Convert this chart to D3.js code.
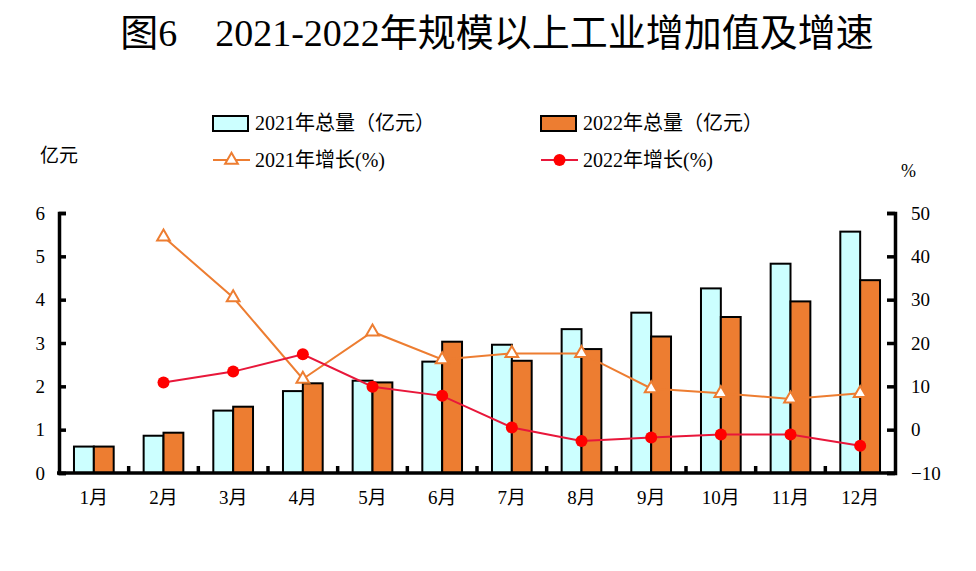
<!DOCTYPE html>
<html>
<head>
<meta charset="utf-8">
<script src="https://cdn.jsdelivr.net/npm/d3@7"></script>
<style>
  body { margin: 0; background: #fff; }
  text { font-family: "Liberation Serif", "Noto Sans CJK SC", serif; fill: #000; }
</style>
</head>
<body>
<svg id="chart" width="976" height="571"></svg>
<script>
// values
var months = ['1月','2月','3月','4月','5月','6月','7月','8月','9月','10月','11月','12月'];
var total2021 = [0.61, 0.86, 1.44, 1.89, 2.13, 2.57, 2.96, 3.32, 3.70, 4.26, 4.83, 5.57];
var total2022 = [0.61, 0.93, 1.53, 2.07, 2.09, 3.03, 2.59, 2.86, 3.15, 3.60, 3.96, 4.45];
var growth2021 = [null, 44.5, 30.5, 11.7, 22.6, 16.2, 17.6, 17.6, 9.5, 8.4, 7.1, 8.4];
var growth2022 = [null, 10.9, 13.4, 17.4, 9.9, 7.8, 0.5, -2.6, -1.8, -1.1, -1.1, -3.7];
var leftTicks = [0, 1, 2, 3, 4, 5, 6];
var rightTicks = [-10, 0, 10, 20, 30, 40, 50];

var orange = '#ED7D31', cyan = '#CCFFFF', red = '#FF0000', redLine = '#E8173A';

var svg = d3.select('#chart');
var pLeft = 59, pRight = 895, pTop = 213, pBottom = 473;

var x = d3.scaleBand().domain(months).range([pLeft, pRight])
	.paddingInner(0.43).paddingOuter(0.215);
var xs = d3.scaleBand().domain([0, 1]).range([0, x.bandwidth()]);
var yL = d3.scaleLinear().domain([0, 6]).range([pBottom, pTop]);
var yR = d3.scaleLinear().domain([-10, 50]).range([pBottom, pTop]);

// title
svg.append('text')
	.attr('x', 497).attr('y', 46)
	.attr('text-anchor', 'middle')
	.style('font-size', '38px')
	.text('图6\u30002021-2022年规模以上工业增加值及增速');

// bars
var g = svg.append('g');
months.forEach(function (m, i) {
	g.append('rect')
		.attr('x', x(m) + xs(0)).attr('y', yL(total2021[i]))
		.attr('width', xs.bandwidth()).attr('height', yL(0) - yL(total2021[i]))
		.attr('fill', cyan).attr('stroke', '#000').attr('stroke-width', 2);
	g.append('rect')
		.attr('x', x(m) + xs(1)).attr('y', yL(total2022[i]))
		.attr('width', xs.bandwidth()).attr('height', yL(0) - yL(total2022[i]))
		.attr('fill', orange).attr('stroke', '#000').attr('stroke-width', 2);
});

// lines
var cx = function (d, i) { return x(months[i]) + x.bandwidth() / 2; };
var line = function (vals) {
	return d3.line()
		.defined(function (d) { return d != null; })
		.x(cx).y(function (d) { return yR(d); })(vals);
};
svg.append('path').attr('d', line(growth2021))
	.attr('fill', 'none').attr('stroke', orange).attr('stroke-width', 2);
svg.append('path').attr('d', line(growth2022))
	.attr('fill', 'none').attr('stroke', redLine).attr('stroke-width', 2);

var tri = d3.symbol().type(d3.symbolTriangle).size(70);
growth2021.forEach(function (d, i) {
	if (d == null) return;
	svg.append('path').attr('d', tri())
		.attr('transform', 'translate(' + cx(d, i) + ',' + yR(d) + ')')
		.attr('fill', '#fff').attr('stroke', orange).attr('stroke-width', 2);
});
growth2022.forEach(function (d, i) {
	if (d == null) return;
	svg.append('circle')
		.attr('cx', cx(d, i)).attr('cy', yR(d)).attr('r', 6)
		.attr('fill', red);
});

// axes
var axL = svg.append('g').attr('transform', 'translate(' + pLeft + ',0)')
	.call(d3.axisLeft(yL).tickValues(leftTicks).tickFormat(d3.format('d')).tickSize(-7).tickPadding(14));
var axR = svg.append('g').attr('transform', 'translate(' + pRight + ',0)')
	.call(d3.axisRight(yR).tickValues(rightTicks).tickFormat(d3.format('d')).tickSize(-8).tickPadding(16));
[axL, axR].forEach(function (a) {
	a.select('.domain').attr('stroke', '#000').attr('stroke-width', 3.5);
	a.selectAll('.tick line').attr('stroke', '#000').attr('stroke-width', 3.5);
	a.selectAll('.tick text').style('font-size', '19px').attr('fill', '#000');
});
axR.selectAll('.tick text').text(function (d) { return d < 0 ? '\u2212' + Math.abs(d) : d; });

// bottom axis: ticks at category boundaries
var bx = svg.append('g').attr('transform', 'translate(0,' + pBottom + ')');
bx.append('line').attr('x1', pLeft - 2).attr('x2', pRight + 2)
	.attr('stroke', '#000').attr('stroke-width', 3.5);
months.slice(1).forEach(function (m) {
	var bxp = x(m) - x.step() * x.paddingInner() / 2;
	bx.append('line').attr('x1', bxp).attr('x2', bxp).attr('y1', 0).attr('y2', -7)
		.attr('stroke', '#000').attr('stroke-width', 3.5);
});
months.forEach(function (m) {
	bx.append('text')
		.attr('x', x(m) + x.bandwidth() / 2).attr('y', 31)
		.attr('text-anchor', 'middle')
		.style('font-size', '19px')
		.text(m);
});

// axis units
svg.append('text').attr('x', 40).attr('y', 162).style('font-size', '19px').text('亿元');
svg.append('text').attr('x', 901).attr('y', 177).style('font-size', '18px').text('%');

// legend
var lg = svg.append('g');
var items = [
	{ label: '2021年总量（亿元）', x: 213, y: 123, kind: 'bar', fill: cyan },
	{ label: '2022年总量（亿元）', x: 541, y: 123, kind: 'bar', fill: orange },
	{ label: '2021年增长(%)', x: 213, y: 160, kind: 'tri', fill: orange },
	{ label: '2022年增长(%)', x: 541, y: 160, kind: 'dot', fill: red }
];
items.forEach(function (it) {
	if (it.kind === 'bar') {
		lg.append('rect').attr('x', it.x).attr('y', it.y - 7).attr('width', 35).attr('height', 15)
			.attr('fill', it.fill).attr('stroke', '#000').attr('stroke-width', 2);
	} else {
		lg.append('line').attr('x1', it.x).attr('x2', it.x + 37).attr('y1', it.y).attr('y2', it.y)
			.attr('stroke', it.kind === 'tri' ? orange : redLine).attr('stroke-width', 2);
		if (it.kind === 'tri') {
			lg.append('path').attr('d', tri())
				.attr('transform', 'translate(' + (it.x + 18.5) + ',' + it.y + ')')
				.attr('fill', '#fff').attr('stroke', orange).attr('stroke-width', 2);
		} else {
			lg.append('circle').attr('cx', it.x + 18.5).attr('cy', it.y).attr('r', 6).attr('fill', red);
		}
	}
	lg.append('text').attr('x', it.x + 42).attr('y', it.y + 7)
		.style('font-size', '20px').text(it.label);
});
</script>
</body>
</html>
